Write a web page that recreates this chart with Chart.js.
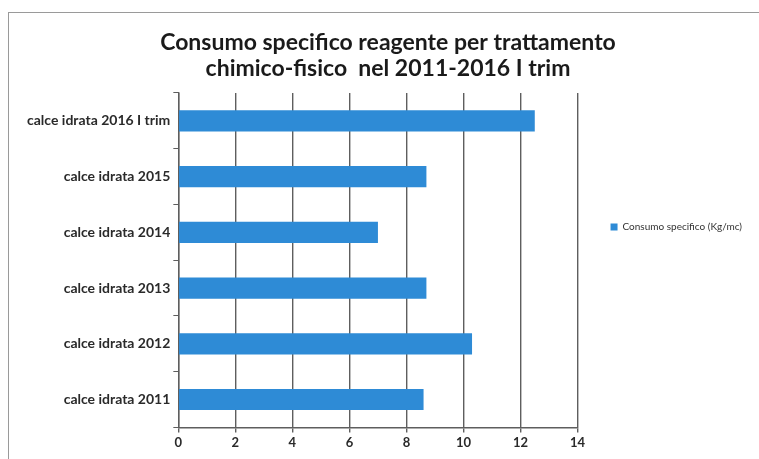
<!DOCTYPE html>
<html>
<head>
<meta charset="utf-8">
<script src="https://cdn.jsdelivr.net/npm/chart.js@4/dist/chart.umd.min.js"></script>
<style>
  body { margin: 0; background: #fff; }
  #wrap { position: relative; width: 759px; height: 459px; overflow: hidden; }
  #frame { position: absolute; left: 8px; top: 12px; width: 800px; height: 500px; border: 1px solid #9a9a9a; }
  canvas { position: absolute; left: 0; top: 0; }
</style>
</head>
<body>
<div id="wrap">
  <div id="frame"></div>
  <canvas id="grafico" width="759" height="459"></canvas>
</div>
<script>
const categorie = [
  "calce idrata 2016 I trim",
  "calce idrata 2015",
  "calce idrata 2014",
  "calce idrata 2013",
  "calce idrata 2012",
  "calce idrata 2011"
];
const consumo = [12.5, 8.7, 7.0, 8.7, 10.3, 8.6];
const tickX = [0, 2, 4, 6, 8, 10, 12, 14];

const ctx = document.getElementById("grafico").getContext("2d");

new Chart(ctx, {
  type: "bar",
  data: {
    labels: categorie,
    datasets: [{
      label: "Consumo specifico (Kg/mc)",
      data: consumo,
      backgroundColor: "#2e8bd6",
      barPercentage: 0.38,
      categoryPercentage: 1
    }]
  },
  options: {
    indexAxis: "y",
    responsive: false,
    animation: false,
    layout: { padding: { left: 24, right: 7, top: 0, bottom: 5 } },
    plugins: {
      title: {
        display: true,
        text: ["Consumo specifico reagente per trattamento", "chimico-fisico  nel 2011-2016 I trim"],
        font: { family: "Lato", size: 23, weight: "bold", lineHeight: 1.13 },
        color: "#1a1a1a",
        padding: { top: 30, bottom: 11 }
      },
      legend: {
        position: "right",
        labels: {
          boxWidth: 7,
          boxHeight: 7,
          padding: 33,
          font: { family: "Lato", size: 10 },
          color: "#333"
        }
      },
      tooltip: { enabled: false }
    },
    scales: {
      x: {
        min: 0,
        max: 14,
        afterBuildTicks: axis => { axis.ticks = tickX.map(v => ({ value: v })); },
        grid: { color: "#5e5e5e", lineWidth: 1.4, tickLength: 5 },
        border: { color: "#5e5e5e", width: 1.4 },
        ticks: { font: { family: "Lato", size: 13, weight: "bold" }, color: "#2a2a2a", padding: 3 }
      },
      y: {
        grid: { offset: true, drawOnChartArea: false, color: "#5e5e5e", tickLength: 5 },
        border: { color: "#5e5e5e", width: 1.4 },
        ticks: { font: { family: "Lato", size: 14, weight: "bold" }, color: "#2a2a2a", padding: 3 }
      }
    }
  }
});
</script>
</body>
</html>
